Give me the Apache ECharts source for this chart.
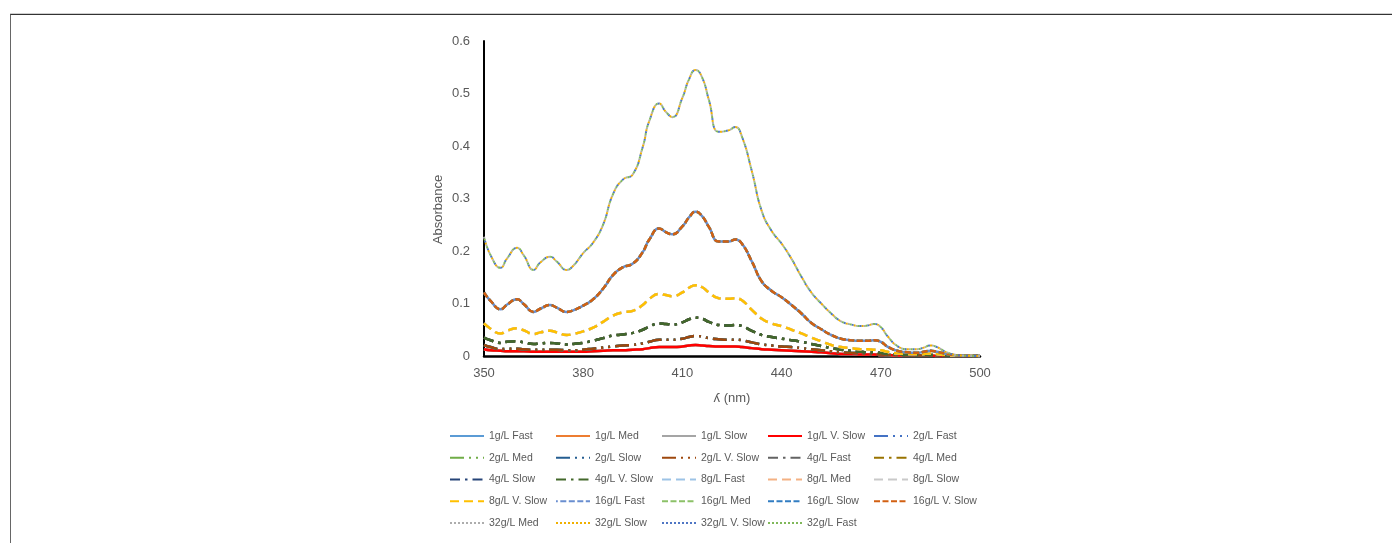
<!DOCTYPE html>
<html>
<head>
<meta charset="utf-8">
<title>Absorbance spectra</title>
<script src="https://cdn.jsdelivr.net/npm/echarts@6/dist/echarts.min.js"></script>
<style>
  html, body { margin: 0; padding: 0; background: #fff; overflow: hidden; }
  #chart { width: 1392px; height: 543px; }
  #frame {
    position: absolute; left: 10px; top: 14px; width: 1400px; height: 560px;
    border-top: 1px solid #333; border-left: 1px solid #666;
    box-shadow: 0 -1px 0 #cfcfcf; pointer-events: none;
  }
</style>
</head>
<body>
<div id="chart"></div>
<div id="frame"></div>
<script>
// wavelength (nm)
const wavelengths = [350, 352, 355, 357, 360, 362, 365, 367, 370, 372,
  375, 377, 380, 383, 386, 389, 392, 395, 398, 400,
  403, 405, 407, 410, 412, 414, 416, 418, 421, 424,
  426, 428, 431, 434, 437, 440, 443, 446, 449, 452,
  455, 458, 461, 464, 466, 468, 470, 472, 475, 478,
  481, 483, 485, 487, 490, 494, 500];

// absorbance per concentration (the 4 speeds of one concentration overlap)
const abs1g = [0.013, 0.011, 0.010, 0.009, 0.009, 0.009, 0.008, 0.008, 0.008, 0.008,
  0.008, 0.008, 0.008, 0.009, 0.010, 0.011, 0.011, 0.012, 0.013, 0.015,
  0.017, 0.017, 0.017, 0.018, 0.020, 0.021, 0.020, 0.019, 0.018, 0.018,
  0.018, 0.017, 0.015, 0.013, 0.012, 0.011, 0.010, 0.009, 0.008, 0.007,
  0.005, 0.004, 0.004, 0.003, 0.003, 0.003, 0.002, 0.002, 0.001, 0.001,
  0.001, 0.001, 0.001, 0.000, 0.000, 0.000, 0.000];
const abs2g = [0.021, 0.017, 0.013, 0.014, 0.014, 0.013, 0.012, 0.012, 0.012, 0.012,
  0.011, 0.011, 0.012, 0.014, 0.016, 0.018, 0.020, 0.021, 0.024, 0.027,
  0.031, 0.031, 0.031, 0.033, 0.036, 0.038, 0.037, 0.034, 0.032, 0.031,
  0.031, 0.030, 0.026, 0.022, 0.020, 0.018, 0.017, 0.015, 0.013, 0.011,
  0.009, 0.007, 0.006, 0.005, 0.004, 0.004, 0.003, 0.002, 0.002, 0.001,
  0.001, 0.001, 0.001, 0.001, 0.000, 0.000, 0.000];
const abs4g = [0.035, 0.030, 0.025, 0.027, 0.028, 0.026, 0.023, 0.024, 0.025, 0.024,
  0.022, 0.023, 0.025, 0.029, 0.034, 0.039, 0.041, 0.044, 0.050, 0.056,
  0.062, 0.061, 0.060, 0.064, 0.070, 0.073, 0.071, 0.065, 0.059, 0.058,
  0.059, 0.057, 0.048, 0.040, 0.036, 0.033, 0.030, 0.027, 0.023, 0.019,
  0.015, 0.012, 0.010, 0.008, 0.007, 0.007, 0.006, 0.004, 0.003, 0.002,
  0.002, 0.002, 0.002, 0.002, 0.001, 0.000, 0.000];
const abs8g = [0.062, 0.052, 0.043, 0.048, 0.053, 0.049, 0.042, 0.045, 0.048, 0.045,
  0.040, 0.042, 0.047, 0.054, 0.065, 0.077, 0.083, 0.086, 0.097, 0.109,
  0.118, 0.116, 0.114, 0.121, 0.130, 0.135, 0.131, 0.121, 0.110, 0.109,
  0.110, 0.106, 0.088, 0.071, 0.062, 0.057, 0.050, 0.043, 0.035, 0.028,
  0.021, 0.017, 0.015, 0.013, 0.013, 0.012, 0.011, 0.008, 0.005, 0.004,
  0.004, 0.004, 0.005, 0.004, 0.002, 0.001, 0.000];
const abs16g = [0.121, 0.105, 0.089, 0.098, 0.108, 0.099, 0.084, 0.090, 0.097, 0.092,
  0.084, 0.087, 0.096, 0.108, 0.128, 0.154, 0.169, 0.176, 0.198, 0.222,
  0.243, 0.236, 0.232, 0.247, 0.264, 0.275, 0.266, 0.246, 0.218, 0.218,
  0.222, 0.214, 0.180, 0.142, 0.124, 0.112, 0.097, 0.081, 0.063, 0.051,
  0.040, 0.033, 0.030, 0.029, 0.029, 0.030, 0.027, 0.018, 0.010, 0.007,
  0.006, 0.008, 0.010, 0.008, 0.004, 0.001, 0.000];
const abs32g = [0.227, 0.192, 0.168, 0.186, 0.206, 0.192, 0.164, 0.178, 0.189, 0.180,
  0.164, 0.172, 0.196, 0.216, 0.250, 0.308, 0.336, 0.346, 0.398, 0.448,
  0.481, 0.465, 0.455, 0.492, 0.527, 0.545, 0.530, 0.488, 0.427, 0.430,
  0.436, 0.418, 0.352, 0.276, 0.238, 0.214, 0.185, 0.151, 0.121, 0.100,
  0.081, 0.066, 0.060, 0.057, 0.058, 0.061, 0.055, 0.038, 0.019, 0.013,
  0.013, 0.016, 0.020, 0.017, 0.007, 0.001, 0.000];

const seriesNames = [
  '1g/L Fast', '1g/L Med', '1g/L Slow', '1g/L V. Slow',
  '2g/L Fast', '2g/L Med', '2g/L Slow', '2g/L V. Slow',
  '4g/L Fast', '4g/L Med', '4g/L Slow', '4g/L V. Slow',
  '8g/L Fast', '8g/L Med', '8g/L Slow', '8g/L V. Slow',
  '16g/L Fast', '16g/L Med', '16g/L Slow', '16g/L V. Slow',
  '32g/L Med', '32g/L Slow', '32g/L V. Slow', '32g/L Fast'
];

const xTicks = { min: 350, max: 500, interval: 30 };
const yTicks = { min: 0, max: 0.6, interval: 0.1 };

// colours, Office palette
const seriesColors = [
  '#5b9bd5', '#ed7d31', '#a5a5a5', '#ff0000',
  '#4472c4', '#70ad47', '#255e91', '#9e480e',
  '#636363', '#997300', '#264478', '#43682b',
  '#9dc3e6', '#f4b183', '#c9c9c9', '#ffc000',
  '#698ed0', '#8cc168', '#327dc2', '#d26012',
  '#adadad', '#f0b000', '#4f76c4', '#80b85a'
];

const dataByConc = {
  '1g/L': abs1g, '2g/L': abs2g, '4g/L': abs4g,
  '8g/L': abs8g, '16g/L': abs16g, '32g/L': abs32g,
};

// line dash per concentration (Excel dash presets)
const DASH = {
  '1g/L': { type: 'solid', width: 2.5 },
  '2g/L': { type: [14, 5, 2, 5, 2, 5], width: 2.5 },
  '4g/L': { type: [10, 5, 2.5, 5], width: 2.5 },
  '8g/L': { type: [9, 5], width: 2.5 },
  '16g/L': { type: [6, 2.5], width: 2.5 },
  '32g/L': { type: [2, 6], width: 2 },
};
const OFFSETS = {
  '16g/L': [4.2, 0, 0, 0],
  '32g/L': [0, 2, 4, 6],
};

const FONT = '"Liberation Sans", Arial, sans-serif';
const TEXT = '#595959';

const series = seriesNames.map((name, i) => {
  const conc = name.split(' ')[0];
  const vals = dataByConc[conc];
  const dash = DASH[conc];
  const off = OFFSETS[conc] ? OFFSETS[conc][i % 4] : 0;
  return {
    name,
    type: 'line',
    data: wavelengths.map((w, k) => [w, vals[k]]),
    smooth: true,
    symbol: 'none',
    showSymbol: false,
    lineStyle: { color: seriesColors[i], width: dash.width, type: dash.type, dashOffset: off },
    itemStyle: { color: seriesColors[i] },
    animation: false,
  };
});

// legend keys: dotted ones get a dense dot pattern like the original
const legendData = seriesNames.map(name => (
  name.startsWith('32g/L')
    ? { name, lineStyle: { type: [2, 2], dashOffset: 0 } }
    : { name }
));

const chart = echarts.init(document.getElementById('chart'));
chart.setOption({
  backgroundColor: '#fff',
  animation: false,
  grid: { left: 484, right: 412, top: 41, bottom: 187 },
  xAxis: {
    type: 'value',
    min: xTicks.min, max: xTicks.max, interval: xTicks.interval,
    name: 'ʎ (nm)',
    nameLocation: 'middle', nameGap: 36,
    nameTextStyle: { color: TEXT, fontSize: 13, fontFamily: FONT },
    axisLine: { show: true, onZero: false, lineStyle: { color: '#000', width: 2.5 } },
    axisTick: { show: false },
    splitLine: { show: false },
    axisLabel: { color: TEXT, fontSize: 13, fontFamily: FONT, margin: 11 },
  },
  yAxis: {
    type: 'value',
    min: yTicks.min, max: yTicks.max, interval: yTicks.interval,
    name: 'Absorbance',
    nameLocation: 'middle', nameGap: 39,
    nameTextStyle: { color: TEXT, fontSize: 13, fontFamily: FONT, padding: [0, 22, 0, 0] },
    axisLine: { show: true, lineStyle: { color: '#000', width: 2 } },
    axisTick: { show: false },
    splitLine: { show: false },
    axisLabel: { color: TEXT, fontSize: 13, fontFamily: FONT, margin: 14 },
  },
  legend: {
    left: 449, top: 425, width: 530, padding: 0,
    orient: 'horizontal',
    itemWidth: 34, itemHeight: 12, itemGap: 0,
    itemStyle: { opacity: 0 },
    textStyle: {
      color: TEXT, fontSize: 10.5, fontFamily: FONT,
      width: 66, overflow: 'truncate', lineHeight: 21.75,
    },
    data: legendData,
  },
  series,
});
</script>
</body>
</html>
